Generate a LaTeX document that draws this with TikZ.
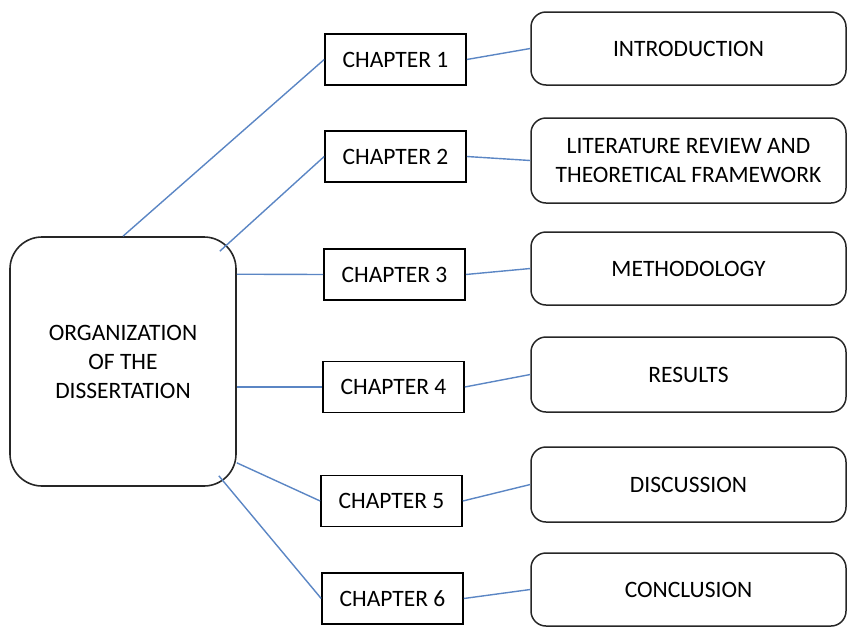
\documentclass[tikz,border=0pt]{standalone}
\usepackage{fontspec}
\setmainfont{Carlito}
\usetikzlibrary{calc}
\definecolor{linkblue}{HTML}{5B86C4}
\definecolor{edge}{HTML}{262626}
\begin{document}
\begin{tikzpicture}[x=1pt,y=-1pt,
  txt/.style={font=\fontsize{23.5}{29}\selectfont, align=center, inner sep=0pt},
  chap/.style={txt, draw=black, line width=1.6pt, minimum width=141pt, minimum height=51pt},
  topic/.style={txt, draw=edge, line width=1.5pt, rounded corners=15pt, minimum width=315pt},
  orgbox/.style={txt, draw=edge, line width=1.6pt, rounded corners=32pt, minimum width=226pt, minimum height=249pt},
  link/.style={draw=linkblue, line width=1.4pt}]
\useasboundingbox (0,0) rectangle (856,627);

\node[orgbox] (org) at (123,361.5) {ORGANIZATION\\OF THE\\DISSERTATION};

\node[chap] (ch1) at (395.5,59.5) {CHAPTER 1};
\node[chap] (ch2) at (395.5,156.5) {CHAPTER 2};
\node[chap] (ch3) at (394.5,274.5) {CHAPTER 3};
\node[chap] (ch4) at (393.5,387) {CHAPTER 4};
\node[chap] (ch5) at (391.5,501) {CHAPTER 5};
\node[chap] (ch6) at (392.5,598.5) {CHAPTER 6};

\node[topic, minimum height=73pt] (intro) at (688.5,48.5) {INTRODUCTION};
\node[topic, minimum height=85pt] (lit) at (688.5,160.5) {LITERATURE REVIEW AND\\THEORETICAL FRAMEWORK};
\node[topic, minimum height=73pt] (meth) at (688.5,268.5) {METHODOLOGY};
\node[topic, minimum height=75pt] (res) at (688.5,374.5) {RESULTS};
\node[topic, minimum height=75pt] (disc) at (688.5,484.5) {DISCUSSION};
\node[topic, minimum height=73pt] (conc) at (688.5,589.5) {CONCLUSION};

\coordinate (o1) at (org.north);
\coordinate (o2) at ($(org.north east)+(-17,15)$);
\coordinate (o3) at ($(org.north east)+(0,38)$);
\coordinate (o4) at ($(org.east)+(0,25.5)$);
\coordinate (o5) at ($(org.south east)+(0,-24)$);
\coordinate (o6) at ($(org.south east)+(-18,-11)$);

\draw[link] (o1) -- (ch1.west);
\draw[link] (o2) -- (ch2.west);
\draw[link] (o3) -- (ch3.west);
\draw[link] (o4) -- (ch4.west);
\draw[link] (o5) -- (ch5.west);
\draw[link] (o6) -- (ch6.west);

\draw[link] (ch1.east) -- (intro.west);
\draw[link] (ch2.east) -- (lit.west);
\draw[link] (ch3.east) -- (meth.west);
\draw[link] (ch4.east) -- (res.west);
\draw[link] (ch5.east) -- (disc.west);
\draw[link] (ch6.east) -- (conc.west);
\end{tikzpicture}
\end{document}
